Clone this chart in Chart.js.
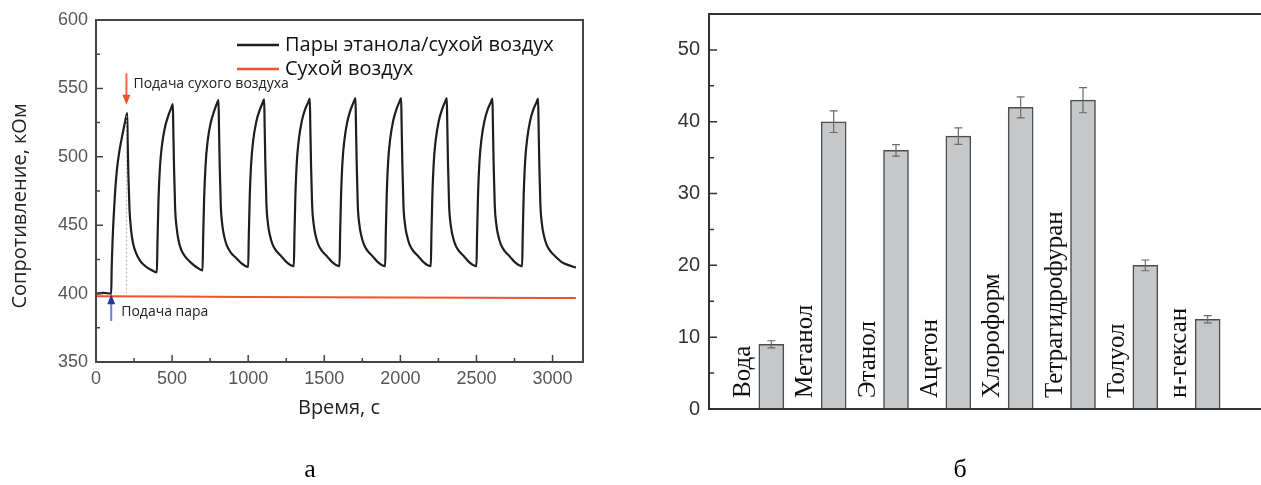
<!DOCTYPE html>
<html>
<head>
<meta charset="utf-8">
<script src="https://cdn.jsdelivr.net/npm/chart.js@4/dist/chart.umd.min.js"></script>
<style>
  html, body { margin: 0; padding: 0; background: #fff; overflow: hidden; width: 1261px; height: 485px; }
  #left { position: absolute; left: 0; top: 0; }
  #right { position: absolute; left: 620px; top: 0; }
</style>
</head>
<body>
<canvas id="left" width="620" height="485"></canvas>
<canvas id="right" width="660" height="485"></canvas>
<script>
// ---- panel a: resistance vs time ----
const ethanolTime = [
  0, 50, 100,
  103, 108, 116, 126, 137, 152, 170, 188, 205,
  208, 213, 220, 230, 243, 262, 290, 325, 360, 400,
  404, 410, 420, 433, 452, 475, 495, 505,
  508, 513, 520, 530, 542, 560, 586, 620, 652, 700,
  704, 710, 720, 733, 752, 775, 795, 805,
  808, 813, 820, 830, 842, 860, 886, 920, 952, 1000,
  1004, 1010, 1020, 1033, 1052, 1075, 1095, 1105,
  1108, 1113, 1120, 1130, 1142, 1160, 1186, 1220, 1252, 1300,
  1304, 1310, 1320, 1333, 1352, 1375, 1395, 1405,
  1408, 1413, 1420, 1430, 1442, 1460, 1486, 1520, 1552, 1600,
  1604, 1610, 1620, 1633, 1652, 1675, 1695, 1705,
  1708, 1713, 1720, 1730, 1742, 1760, 1786, 1820, 1852, 1900,
  1904, 1910, 1920, 1933, 1952, 1975, 1995, 2005,
  2008, 2013, 2020, 2030, 2042, 2060, 2086, 2120, 2152, 2200,
  2204, 2210, 2220, 2233, 2252, 2275, 2295, 2305,
  2308, 2313, 2320, 2330, 2342, 2360, 2386, 2420, 2452, 2500,
  2504, 2510, 2520, 2533, 2552, 2575, 2595, 2605,
  2608, 2613, 2620, 2630, 2642, 2660, 2686, 2720, 2752, 2800,
  2804, 2810, 2820, 2833, 2852, 2875, 2895, 2905,
  2908, 2913, 2920, 2930, 2942, 2960, 2986, 3020, 3060, 3100, 3153
];
const ethanolRes = [
  400, 400.5, 400,
  418, 436, 456, 475, 490, 503, 514, 524, 532,
  512, 486, 462, 447, 437, 430, 424, 420, 417.5, 415.5,
  438, 466, 492, 508, 521, 530, 536, 538.5,
  520, 491, 462, 448, 439, 432, 427, 423, 420, 417,
  440, 468, 494, 511, 524, 533, 539, 541.5,
  523, 493, 464, 450, 442, 435, 430, 426, 422.5, 419.5,
  442, 470, 496, 512, 525, 534, 539.5, 542,
  524, 494, 465, 451, 443, 436, 431, 427, 423, 420,
  443, 471, 497, 513, 526, 535, 540, 542.5,
  524, 494, 465, 451, 443, 436, 431, 427, 423, 420,
  443, 471, 497, 513, 526, 535, 540.5, 543,
  525, 495, 465, 451, 443, 436, 431, 427, 423, 420,
  443, 471, 497, 513, 526, 535, 540.5, 543,
  525, 495, 465, 451, 443, 436, 431, 427, 423, 420,
  443, 471, 497, 513, 526, 535, 540.5, 543,
  525, 495, 465, 451, 443, 436, 431, 427, 423, 420,
  443, 471, 497, 513, 526, 535, 540, 542.5,
  524, 494, 465, 451, 443, 436, 431, 427, 423, 420,
  443, 471, 497, 513, 526, 535, 540, 542.5,
  524, 494, 465, 451, 443, 436, 431, 427, 423, 421, 419
];
const airTime = [0, 500, 1000, 1500, 2000, 2500, 3000, 3153];
const airRes = [398, 397.8, 397.6, 397.4, 397.2, 397, 396.8, 396.7];
const seriesNames = ['Пары этанола/сухой воздух', 'Сухой воздух'];
const timeTicks = [0, 500, 1000, 1500, 2000, 2500, 3000];
const resTicks = [350, 400, 450, 500, 550, 600];

// arrows: [time, tail value, tip value]
const steamArrow = [100, 380, 399.5];
const airArrow = [200, 561, 538];
const steamText = 'Подача пара';
const airText = 'Подача сухого воздуха';

// ---- panel b: Rf by solvent ----
const solvents = ['Вода', 'Метанол', 'Этанол', 'Ацетон', 'Хлороформ', 'Тетрагидрофуран', 'Толуол', 'н-гексан'];
const rfValues = [9, 40, 36, 38, 42, 43, 20, 12.5];
const rfErrors = [0.5, 1.5, 0.8, 1.15, 1.45, 1.75, 0.75, 0.5];
const rfTicks = [0, 10, 20, 30, 40, 50];

// inward tick marks, major at ticks and minor halfway between them
function inwardTicks(ctx, scale, a, vertical, majorLen, minorLen) {
  ctx.beginPath();
  scale.ticks.forEach((t, i) => {
    const p = scale.getPixelForValue(t.value);
    if (vertical) { ctx.moveTo(a.left, p); ctx.lineTo(a.left + majorLen, p); }
    else { ctx.moveTo(p, a.bottom); ctx.lineTo(p, a.bottom - majorLen); }
    const next = scale.ticks[i + 1];
    if (next) {
      const m = scale.getPixelForValue((t.value + next.value) / 2);
      if (vertical) { ctx.moveTo(a.left, m); ctx.lineTo(a.left + minorLen, m); }
      else { ctx.moveTo(m, a.bottom); ctx.lineTo(m, a.bottom - minorLen); }
    }
  });
  ctx.stroke();
}

function arrow(ctx, x, y1, y2, shaft, head) {
  const dir = y2 > y1 ? 1 : -1;
  ctx.strokeStyle = shaft; ctx.lineWidth = 2;
  ctx.beginPath(); ctx.moveTo(x, y1); ctx.lineTo(x, y2 - dir * 8); ctx.stroke();
  ctx.fillStyle = head;
  ctx.beginPath();
  ctx.moveTo(x, y2); ctx.lineTo(x - 4, y2 - dir * 10); ctx.lineTo(x + 4, y2 - dir * 10);
  ctx.closePath(); ctx.fill();
}

const decorA = {
  id: 'decorA',
  afterDatasetsDraw(chart) {
    const { ctx, chartArea: a, scales: { x, y } } = chart;
    ctx.save();
    // dotted marker line at dry air switch
    ctx.strokeStyle = '#b8bcc8'; ctx.lineWidth = 1; ctx.setLineDash([2, 2]);
    ctx.beginPath();
    ctx.moveTo(x.getPixelForValue(airArrow[0]), y.getPixelForValue(530));
    ctx.lineTo(x.getPixelForValue(airArrow[0]), y.getPixelForValue(400));
    ctx.stroke();
    ctx.setLineDash([]);

    ctx.strokeStyle = '#454545'; ctx.lineWidth = 2;
    ctx.strokeRect(a.left, a.top, a.right - a.left, a.bottom - a.top);
    ctx.lineWidth = 1.5;
    inwardTicks(ctx, x, a, false, 7, 4);
    inwardTicks(ctx, y, a, true, 7, 4);

    // arrows + notes
    arrow(ctx, x.getPixelForValue(airArrow[0]), y.getPixelForValue(airArrow[1]), y.getPixelForValue(airArrow[2]), '#ef6a3c', '#e8552a');
    arrow(ctx, x.getPixelForValue(steamArrow[0]), y.getPixelForValue(steamArrow[1]), y.getPixelForValue(steamArrow[2]), '#6f7fd2', '#27389a');
    ctx.fillStyle = '#222';
    ctx.font = '14px "Open Sans"';
    ctx.textBaseline = 'middle'; ctx.textAlign = 'left';
    ctx.fillText(airText, x.getPixelForValue(airArrow[0]) + 7, 84);
    ctx.fillText(steamText, x.getPixelForValue(steamArrow[0]) + 10, 312);

    // legend
    const colors = ['#1e1e1e', '#f0532b'];
    ctx.font = '20px "Open Sans"';
    ctx.fillStyle = '#111';
    seriesNames.forEach((name, i) => {
      const ly = 45 + i * 24;
      ctx.strokeStyle = colors[i]; ctx.lineWidth = 2.5;
      ctx.beginPath(); ctx.moveTo(237, ly); ctx.lineTo(279, ly); ctx.stroke();
      ctx.fillText(name, 285, ly);
    });

    // axis titles
    ctx.font = '20px "Open Sans"';
    ctx.fillStyle = '#222';
    ctx.textAlign = 'center';
    ctx.fillText('Время, с', 339, 408);
    ctx.translate(20, 206);
    ctx.rotate(-Math.PI / 2);
    ctx.fillText('Сопротивление, кОм', 0, 0);
    ctx.restore();

    // caption
    ctx.save();
    ctx.font = '26px "Liberation Serif"';
    ctx.fillStyle = '#000';
    ctx.textAlign = 'center';
    ctx.fillText('а', 310, 477);
    ctx.restore();
  }
};

const decorB = {
  id: 'decorB',
  afterDatasetsDraw(chart) {
    const { ctx, chartArea: a, scales: { x, y } } = chart;
    ctx.save();
    // error bars
    ctx.strokeStyle = '#6a6a6a'; ctx.lineWidth = 1.2;
    ctx.beginPath();
    rfValues.forEach((v, i) => {
      const px = x.getPixelForValue(i + 1);
      const hi = y.getPixelForValue(v + rfErrors[i]);
      const lo = y.getPixelForValue(v - rfErrors[i]);
      ctx.moveTo(px, hi); ctx.lineTo(px, lo);
      ctx.moveTo(px - 4, hi); ctx.lineTo(px + 4, hi);
      ctx.moveTo(px - 4, lo); ctx.lineTo(px + 4, lo);
    });
    ctx.stroke();

    // axes: left, bottom, top
    ctx.strokeStyle = '#333'; ctx.lineWidth = 2;
    ctx.beginPath();
    ctx.moveTo(a.right, a.top); ctx.lineTo(a.left, a.top); ctx.lineTo(a.left, a.bottom); ctx.lineTo(a.right, a.bottom);
    ctx.stroke();
    ctx.lineWidth = 1.5;
    inwardTicks(ctx, y, a, true, 8, 5);

    // solvent names, rotated, left of each bar
    ctx.fillStyle = '#111';
    ctx.font = '25px "Liberation Serif"';
    ctx.textAlign = 'left'; ctx.textBaseline = 'middle';
    solvents.forEach((s, i) => {
      ctx.save();
      ctx.translate(x.getPixelForValue(i + 1 - 0.45), a.bottom - 11);
      ctx.rotate(-Math.PI / 2);
      ctx.fillText(s, 0, 0);
      ctx.restore();
    });

    // y title R_f, %
    ctx.save();
    ctx.translate(652, 235);
    ctx.rotate(-Math.PI / 2);
    ctx.textBaseline = 'middle';
    const big = '24px "Liberation Serif"', small = '16px "Liberation Serif"';
    ctx.font = big; const wR = ctx.measureText('R').width; const wC = ctx.measureText(', %').width;
    ctx.font = small; const wF = ctx.measureText('f').width;
    let cx = -(wR + wF + wC) / 2;
    ctx.font = big; ctx.fillText('R', cx, 0); cx += wR;
    ctx.font = small; ctx.fillText('f', cx, 6); cx += wF;
    ctx.font = big; ctx.fillText(', %', cx, 0);
    ctx.restore();

    // caption
    ctx.font = '26px "Liberation Serif"';
    ctx.fillStyle = '#000';
    ctx.textAlign = 'center'; ctx.textBaseline = 'alphabetic';
    ctx.fillText('б', 340, 477);
    ctx.restore();
  }
};

new Chart(document.getElementById('left'), {
  type: 'line',
  data: {
    datasets: [
      {
        label: seriesNames[0],
        data: ethanolTime.map((t, i) => ({ x: t, y: ethanolRes[i] })),
        borderColor: '#1e1e1e', borderWidth: 2.2, pointRadius: 0,
        cubicInterpolationMode: 'monotone'
      },
      {
        label: seriesNames[1],
        data: airTime.map((t, i) => ({ x: t, y: airRes[i] })),
        borderColor: '#f0532b', borderWidth: 2, pointRadius: 0
      }
    ]
  },
  options: {
    responsive: false, animation: false, devicePixelRatio: 1,
    layout: { padding: { top: 20, right: 37, left: 0, bottom: 0 } },
    plugins: { legend: { display: false }, tooltip: { enabled: false } },
    scales: {
      x: {
        type: 'linear', min: 0, max: 3200,
        grid: { display: false, drawTicks: false }, border: { display: false },
        afterBuildTicks: s => { s.ticks = timeTicks.map(v => ({ value: v })); },
        afterFit: s => { s.height = 123; s.paddingLeft = 0; s.paddingRight = 0; },
        ticks: { padding: 6, maxRotation: 0, autoSkip: false, color: '#555',
                 callback: v => String(v),
                 font: { family: 'Liberation Sans', size: 18 } }
      },
      y: {
        min: 350, max: 600,
        grid: { display: false, drawTicks: false }, border: { display: false },
        afterBuildTicks: s => { s.ticks = resTicks.map(v => ({ value: v })); },
        afterFit: s => { s.width = 96; s.paddingTop = 0; s.paddingBottom = 0; },
        ticks: { padding: 8, color: '#555', callback: v => String(v),
                 font: { family: 'Liberation Sans', size: 18 } }
      }
    }
  },
  plugins: [decorA]
});

new Chart(document.getElementById('right'), {
  type: 'bar',
  data: {
    datasets: [{
      data: rfValues.map((v, i) => ({ x: i + 1, y: v })),
      backgroundColor: '#c6c7c9', borderColor: '#4d4d4d', borderWidth: 1.5,
      barThickness: 25
    }]
  },
  options: {
    responsive: false, animation: false, devicePixelRatio: 1,
    layout: { padding: { top: 14, right: 10, left: 0, bottom: 76 } },
    plugins: { legend: { display: false }, tooltip: { enabled: false } },
    scales: {
      x: { type: 'linear', min: 0, max: 9, offset: false, display: false },
      y: {
        min: 0, max: 55,
        grid: { display: false, drawTicks: false }, border: { display: false },
        afterBuildTicks: s => { s.ticks = rfTicks.map(v => ({ value: v })); },
        afterFit: s => { s.width = 89; s.paddingTop = 0; s.paddingBottom = 0; },
        ticks: { padding: 9, color: '#333', font: { family: 'Liberation Sans', size: 20 } }
      }
    }
  },
  plugins: [decorB]
});
</script>
</body>
</html>
